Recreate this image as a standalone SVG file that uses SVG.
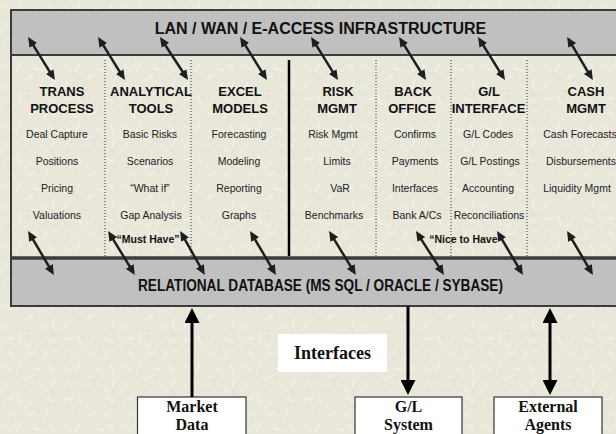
<svg xmlns="http://www.w3.org/2000/svg" width="616" height="434" viewBox="0 0 616 434">
<style>
.band{fill:#c0c0c0;stroke:#3c3c3c;stroke-width:2}
.ttl{font-family:"Liberation Sans",Arial,sans-serif;font-weight:bold;font-size:16px;fill:#111;text-anchor:middle}
.hd{font-family:"Liberation Sans",Arial,sans-serif;font-weight:bold;font-size:13px;fill:#111;text-anchor:middle}
.it{font-family:"Liberation Sans",Arial,sans-serif;font-size:10.5px;fill:#222;text-anchor:middle}
.note{font-family:"Liberation Sans",Arial,sans-serif;font-weight:bold;font-size:10.5px;fill:#111;text-anchor:middle}
.sep{stroke:#333;stroke-width:1;stroke-dasharray:1 2}
.sa{stroke:#1e1e1e;stroke-width:2.5;marker-start:url(#sh);marker-end:url(#sh)}
.ba{stroke:#000;stroke-width:3}
.box{fill:#fff;stroke:#333;stroke-width:1.2}
.bt{font-family:"Liberation Serif","Times New Roman",serif;font-weight:bold;font-size:16px;fill:#111;text-anchor:middle}
.lbl{font-family:"Liberation Serif","Times New Roman",serif;font-weight:bold;font-size:18px;fill:#111;text-anchor:middle}
</style>
<defs>
<pattern id="tex" width="60" height="60" patternUnits="userSpaceOnUse">
<rect width="60" height="60" fill="#e8e7da"/>
<g stroke="#f6f5ec" stroke-width="1">
<path d="M3 5l9 6M20 2l-4 10M34 8l10 3M50 4l4 9M8 22l-6 8M25 20l9-5M40 24l8 7M55 18l-3 10M4 40l10-2M18 35l3 10M32 42l-8 6M45 38l9 4M10 52l6 6M28 55l10-4M48 50l-4 9"/>
</g>
<g stroke="#dcdbcc" stroke-width="0.8">
<path d="M12 14l6 4M38 16l-5 5M22 30l8 1M52 30l3 6M6 48l5-4M36 50l6 3M58 44l-6 2"/>
</g>
</pattern>
<marker id="sh" viewBox="0 0 10 9" markerWidth="10" markerHeight="9" refX="5" refY="4.5" orient="auto-start-reverse" markerUnits="userSpaceOnUse">
<path d="M0 0L10 4.5L0 9z" fill="#1e1e1e"/>
</marker>
<marker id="bh" viewBox="0 0 15 15" markerWidth="15" markerHeight="15" refX="7.5" refY="7.5" orient="auto-start-reverse" markerUnits="userSpaceOnUse">
<path d="M0 0L15 7.5L0 15z" fill="#000"/>
</marker>
</defs>
<rect width="616" height="434" fill="url(#tex)"/>

<g id="frame">
<line x1="11" y1="55" x2="11" y2="258" stroke="#3c3c3c" stroke-width="2"/>
<line x1="289" y1="60" x2="289" y2="256" stroke="#000" stroke-width="2.5"/>
<line class="sep" x1="105" y1="60" x2="105" y2="256"/>
<line class="sep" x1="191" y1="60" x2="191" y2="256"/>
<line class="sep" x1="376" y1="60" x2="376" y2="256"/>
<line class="sep" x1="451" y1="60" x2="451" y2="256"/>
<line class="sep" x1="527" y1="60" x2="527" y2="256"/>
</g>

<g id="lan">
<rect class="band" x="11" y="10" width="612" height="45"/>
<text class="ttl" x="320.5" y="34">LAN / WAN / E-ACCESS INFRASTRUCTURE</text>
</g>

<g id="db">
<rect class="band" x="11" y="258" width="612" height="48"/>
<line x1="11" y1="258" x2="616" y2="258" stroke="#3c3c3c" stroke-width="3.5"/>
<text class="ttl" x="320.5" y="291" font-size="15" textLength="365" lengthAdjust="spacingAndGlyphs">RELATIONAL DATABASE (MS SQL / ORACLE / SYBASE)</text>
</g>

<g id="trans">
<text class="hd" x="62" y="96">TRANS</text>
<text class="hd" x="62" y="113">PROCESS</text>
<text class="it" x="57" y="138">Deal Capture</text>
<text class="it" x="57" y="165">Positions</text>
<text class="it" x="57" y="192">Pricing</text>
<text class="it" x="57" y="219">Valuations</text>
</g>
<g id="analytical">
<text class="hd" x="151" y="96">ANALYTICAL</text>
<text class="hd" x="151" y="113">TOOLS</text>
<text class="it" x="150" y="138">Basic Risks</text>
<text class="it" x="150" y="165">Scenarios</text>
<text class="it" x="150" y="192">“What if”</text>
<text class="it" x="151" y="219">Gap Analysis</text>
<text class="note" x="148" y="243">“Must Have”</text>
</g>
<g id="excel">
<text class="hd" x="240" y="96">EXCEL</text>
<text class="hd" x="240" y="113">MODELS</text>
<text class="it" x="239" y="138">Forecasting</text>
<text class="it" x="239" y="165">Modeling</text>
<text class="it" x="239" y="192">Reporting</text>
<text class="it" x="239" y="219">Graphs</text>
</g>
<g id="risk">
<text class="hd" x="338" y="96">RISK</text>
<text class="hd" x="337" y="113">MGMT</text>
<text class="it" x="333" y="138">Risk Mgmt</text>
<text class="it" x="337" y="165">Limits</text>
<text class="it" x="340" y="192">VaR</text>
<text class="it" x="334" y="219">Benchmarks</text>
</g>
<g id="back">
<text class="hd" x="413" y="96">BACK</text>
<text class="hd" x="412" y="113">OFFICE</text>
<text class="it" x="415" y="138">Confirms</text>
<text class="it" x="415" y="165">Payments</text>
<text class="it" x="415" y="192">Interfaces</text>
<text class="it" x="417" y="219">Bank A/Cs</text>
<text class="note" x="466" y="243">“Nice to Have”</text>
</g>
<g id="gl">
<text class="hd" x="489" y="96">G/L</text>
<text class="hd" x="488.5" y="113">INTERFACE</text>
<text class="it" x="488" y="138">G/L Codes</text>
<text class="it" x="490" y="165">G/L Postings</text>
<text class="it" x="488" y="192">Accounting</text>
<text class="it" x="489" y="219">Reconciliations</text>
</g>
<g id="cash">
<text class="hd" x="586" y="96">CASH</text>
<text class="hd" x="586" y="113">MGMT</text>
<text class="it" x="580" y="138">Cash Forecasts</text>
<text class="it" x="581" y="165">Disbursements</text>
<text class="it" x="577" y="192">Liquidity Mgmt</text>
</g>

<g id="interfaces-label">
<rect x="278" y="334" width="109" height="38" fill="#fff"/>
<text class="lbl" x="332.5" y="359">Interfaces</text>
</g>

<g id="market-data">
<rect class="box" x="137.5" y="397" width="108.5" height="45"/>
<text class="bt" x="192" y="412">Market</text>
<text class="bt" x="192" y="430">Data</text>
</g>
<g id="gl-system">
<rect class="box" x="355" y="397" width="107" height="45"/>
<text class="bt" x="408.5" y="412">G/L</text>
<text class="bt" x="408.5" y="430">System</text>
</g>
<g id="external-agents">
<rect class="box" x="494" y="397" width="108" height="45"/>
<text class="bt" x="548" y="412">External</text>
<text class="bt" x="548" y="430">Agents</text>
</g>

<g id="connectors">
<line class="sa" x1="30.7" y1="41.2" x2="52.3" y2="75.8"/>
<line class="sa" x1="100.7" y1="41.2" x2="122.3" y2="75.8"/>
<line class="sa" x1="162.7" y1="41.2" x2="185.3" y2="75.8"/>
<line class="sa" x1="242.7" y1="41.2" x2="264.3" y2="75.8"/>
<line class="sa" x1="313.7" y1="41.2" x2="335.3" y2="75.8"/>
<line class="sa" x1="401.7" y1="41.2" x2="423.3" y2="75.8"/>
<line class="sa" x1="480.7" y1="41.2" x2="502.3" y2="75.8"/>
<line class="sa" x1="569.7" y1="41.2" x2="590.3" y2="75.8"/>
<line class="sa" x1="30.6" y1="235.3" x2="51.4" y2="270.7"/>
<line class="sa" x1="110.7" y1="235.3" x2="132.3" y2="270.7"/>
<line class="sa" x1="182.6" y1="235.3" x2="202.4" y2="270.7"/>
<line class="sa" x1="252.6" y1="235.3" x2="273.4" y2="270.7"/>
<line class="sa" x1="331.7" y1="235.3" x2="353.3" y2="270.7"/>
<line class="sa" x1="418.7" y1="235.3" x2="441.3" y2="270.7"/>
<line class="sa" x1="499.6" y1="235.3" x2="520.4" y2="270.7"/>
<line class="sa" x1="569.6" y1="235.3" x2="590.4" y2="270.7"/>
<line class="ba" x1="192" y1="397" x2="192" y2="315.5" marker-end="url(#bh)"/>
<line class="ba" x1="408" y1="306" x2="408" y2="387.5" marker-end="url(#bh)"/>
<line class="ba" x1="550" y1="315.5" x2="550" y2="387.5" marker-start="url(#bh)" marker-end="url(#bh)"/>
</g>
</svg>
